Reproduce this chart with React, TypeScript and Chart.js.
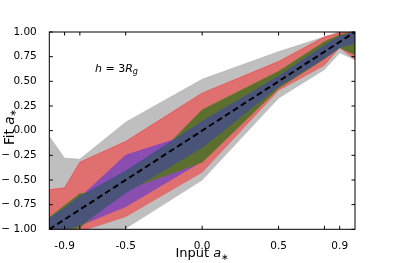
import React, { useEffect, useRef } from "react";
import { Chart, registerables } from "chart.js";

Chart.register(...registerables);

// ---- data ----
const xs = [-1, -0.9, -0.8, -0.5, 0, 0.5, 0.8, 0.9, 1];
const grayUpper = [-0.06, -0.28, -0.29, 0.085, 0.52, 0.8, 0.95, 1.0, 1.0];
const grayLower = [-1.05, -1.05, -1.05, -0.99, -0.5, 0.33, 0.62, 0.79, 0.72];
const redUpper = [-0.6, -0.58, -0.32, -0.11, 0.38, 0.7, 0.95, 0.99, 1.0];
const redLower = [-1.05, -1.05, -1.02, -0.87, -0.42, 0.41, 0.665, 0.845, 0.72];
const greenUpper = [-0.88, -0.76, -0.64, -0.58, 0.21, 0.6, 0.9, 0.97, 1.0];
const greenLower = [-1.05, -1.03, -0.98, -0.6, -0.32, 0.43, 0.73, 0.84, 0.77];
const purpleUpper = [-0.9, -0.8, -0.68, -0.25, 0.0, 0.53, 0.86, 0.955, 1.0];
const purpleLower = [-1.0, -1.0, -0.96, -0.77, -0.31, 0.47, 0.74, 0.845, 0.89];
const blueUpper = [-0.89, -0.79, -0.67, -0.41, 0.09, 0.55, 0.86, 0.955, 1.0];
const blueLower = [-1.0, -1.0, -0.96, -0.63, -0.17, 0.45, 0.735, 0.845, 0.89];
const diagX = [-1, 1];
const diagY = [-1, 1];

const xTickValues = [-0.9, -0.8, -0.5, 0, 0.5, 0.8, 0.9];
const xTickLabels = ["-0.9", "", "-0.5", "0.0", "0.5", "", "0.9"];
const yTickValues = [-1, -0.75, -0.5, -0.25, 0, 0.25, 0.5, 0.75, 1];
const yTickLabels = ["\u2212 1.00", "\u2212 0.75", "\u2212 0.50", "\u2212 0.25", "0.00", "0.25", "0.50", "0.75", "1.00"];

const FONT = "'DejaVu Sans', sans-serif";

const pts = (ys: number[]) => xs.map((x, i) => ({ x, y: ys[i] }));

function band(upper: number[], lower: number[], fillColor: string, edge: string) {
  return [
    {
      data: pts(upper),
      borderColor: edge,
      borderWidth: 0.8,
      backgroundColor: fillColor,
      fill: "+1",
      pointRadius: 0,
      tension: 0,
    },
    {
      data: pts(lower),
      borderColor: edge,
      borderWidth: 0.8,
      backgroundColor: fillColor,
      fill: false,
      pointRadius: 0,
      tension: 0,
    },
  ];
}

const framePlugin = {
  id: "frameTicks",
  afterDatasetsDraw(chart: any) {
    const { ctx, chartArea: a, scales } = chart;
    const xs_ = scales.x;
    const ys_ = scales.y;
    ctx.save();
    ctx.strokeStyle = "#000";
    ctx.lineWidth = 1;
    ctx.strokeRect(a.left, a.top, a.right - a.left, a.bottom - a.top);
    const tl = 3.5;
    ctx.beginPath();
    xTickValues.forEach((v) => {
      const px = xs_.getPixelForValue(v);
      ctx.moveTo(px, a.bottom);
      ctx.lineTo(px, a.bottom - tl);
      ctx.moveTo(px, a.top);
      ctx.lineTo(px, a.top + tl);
    });
    yTickValues.forEach((v) => {
      const py = ys_.getPixelForValue(v);
      ctx.moveTo(a.left, py);
      ctx.lineTo(a.left + tl, py);
      ctx.moveTo(a.right, py);
      ctx.lineTo(a.right - tl, py);
    });
    ctx.stroke();

    ctx.fillStyle = "#000";
    ctx.textBaseline = "alphabetic";
    const drawMixed = (parts: { t: string; f: string; dy?: number }[], x: number, y: number, align: "center" | "left") => {
      let total = 0;
      parts.forEach((p) => {
        ctx.font = p.f;
        total += ctx.measureText(p.t).width;
      });
      let cx = align === "center" ? x - total / 2 : x;
      parts.forEach((p) => {
        ctx.font = p.f;
        ctx.textAlign = "left";
        ctx.fillText(p.t, cx, y + (p.dy || 0));
        cx += ctx.measureText(p.t).width;
      });
    };
    const cxm = (a.left + a.right) / 2;
    drawMixed(
      [
        { t: "Input ", f: `13px ${FONT}` },
        { t: "a", f: `italic 13px ${FONT}` },
        { t: "\u2217", f: `9px ${FONT}`, dy: 2.5 },
      ],
      cxm,
      257,
      "center"
    );
    ctx.save();
    ctx.translate(13.5, 127);
    ctx.rotate(-Math.PI / 2);
    drawMixed(
      [
        { t: "Fit ", f: `13.5px ${FONT}` },
        { t: "a", f: `italic 13.5px ${FONT}` },
        { t: "\u2217", f: `9px ${FONT}`, dy: 2.5 },
      ],
      0,
      0,
      "center"
    );
    ctx.restore();
    drawMixed(
      [
        { t: "h", f: `italic 11px ${FONT}` },
        { t: " = 3", f: `11px ${FONT}` },
        { t: "R", f: `italic 11px ${FONT}` },
        { t: "g", f: `italic 8px ${FONT}`, dy: 2 },
      ],
      95,
      72,
      "left"
    );
    ctx.restore();
  },
};

export default function App() {
  const ref = useRef<HTMLCanvasElement | null>(null);
  useEffect(() => {
    document.body.style.margin = "0";
    const canvas = ref.current;
    if (!canvas) return;
    const datasets: any[] = [
      {
        data: diagX.map((x, i) => ({ x, y: diagY[i] })),
        borderColor: "#000",
        borderWidth: 2,
        borderDash: [6, 3.5],
        fill: false,
        pointRadius: 0,
        tension: 0,
      },
      ...band(blueUpper, blueLower, "#4a5479", "#3d4c9c"),
      ...band(greenUpper, greenLower, "#5c6f2e", "#5a7a22"),
      ...band(purpleUpper, purpleLower, "#8a4db0", "#8a40c4"),
      ...band(redUpper, redLower, "#e07070", "#f24a4a"),
      ...band(grayUpper, grayLower, "#bfbfbf", "#b8b8b8"),
    ];
    const chart = new Chart(canvas, {
      type: "line",
      data: { datasets },
      options: {
        animation: false,
        responsive: false,
        devicePixelRatio: 1,
        layout: { padding: { top: 32, right: 40, left: 0, bottom: 0 } },
        plugins: { legend: { display: false }, tooltip: { enabled: false } },
        scales: {
          x: {
            type: "linear",
            min: -1,
            max: 1,
            grid: { display: false },
            border: { display: false },
            afterBuildTicks: (s: any) => {
              s.ticks = xTickValues.map((v) => ({ value: v }));
            },
            afterFit: (s: any) => {
              s.height = 33.7;
            },
            ticks: {
              autoSkip: false,
              maxRotation: 0,
              padding: 2.5,
              color: "#000",
              font: { family: FONT, size: 10.5 },
              callback: (v: any) => {
                const i = xTickValues.findIndex((t) => Math.abs(t - v) < 1e-9);
                return i >= 0 ? xTickLabels[i] : "";
              },
            },
          },
          y: {
            type: "linear",
            min: -1,
            max: 1,
            grid: { display: false },
            border: { display: false },
            afterBuildTicks: (s: any) => {
              s.ticks = yTickValues.map((v) => ({ value: v }));
            },
            afterFit: (s: any) => {
              s.width = 49.3;
            },
            ticks: {
              autoSkip: false,
              padding: 4.5,
              color: "#000",
              font: { family: FONT, size: 10.5 },
              callback: (v: any) => {
                const i = yTickValues.findIndex((t) => Math.abs(t - v) < 1e-9);
                return i >= 0 ? yTickLabels[i] : "";
              },
            },
          },
        },
      },
      plugins: [framePlugin],
    });
    return () => chart.destroy();
  }, []);
  return (
    <div style={{ width: 395, height: 263 }}>
      <canvas ref={ref} width={395} height={263} style={{ display: "block" }} />
    </div>
  );
}
